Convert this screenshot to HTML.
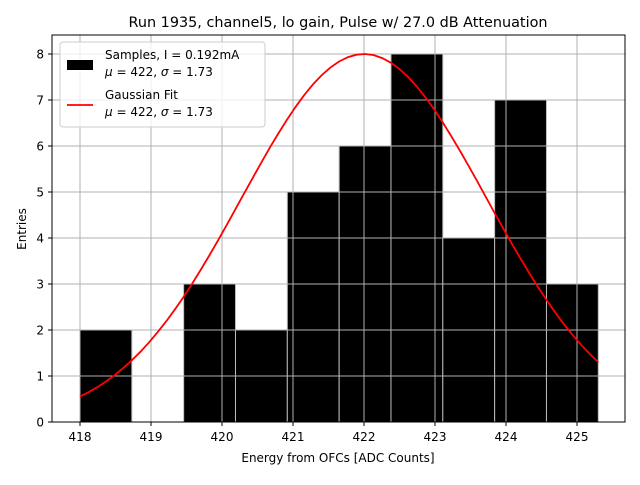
<!DOCTYPE html>
<html><head><meta charset="utf-8"><style>
body{margin:0;background:#fff}
svg text{font-family:"DejaVu Sans","Liberation Sans",sans-serif;fill:#000}
</style></head><body>
<svg id="chart" width="640" height="480" xmlns="http://www.w3.org/2000/svg">
<rect width="640" height="480" fill="#fff"/>
<text x="338" y="27" font-size="14.4" text-anchor="middle">Run 1935, channel5, lo gain, Pulse w/ 27.0 dB Attenuation</text>
<g id="bars"></g>
<g id="grid"></g>
<g id="fit"></g>
<rect x="52" y="35" width="573" height="387" fill="none" stroke="#000" stroke-width="1"/>
<g id="axes"></g>
<text x="338" y="462" font-size="12" text-anchor="middle">Energy from OFCs [ADC Counts]</text>
<text transform="translate(26,229) rotate(-90)" font-size="12" text-anchor="middle">Entries</text>
<g>
<rect x="60" y="42" width="205" height="85" rx="3" fill="#fff" fill-opacity="0.8" stroke="#ccc"/>
<rect x="67" y="60" width="26" height="10" fill="#000"/>
<text x="105" y="59" font-size="12">Samples, I = 0.192mA</text>
<text x="105" y="76" font-size="12"><tspan font-style="italic">μ</tspan> = 422, <tspan font-style="italic">σ</tspan> = 1.73</text>
<line x1="67" y1="105" x2="93" y2="105" stroke="red" stroke-width="1.8"/>
<text x="105" y="99" font-size="12">Gaussian Fit</text>
<text x="105" y="116" font-size="12"><tspan font-style="italic">μ</tspan> = 422, <tspan font-style="italic">σ</tspan> = 1.73</text>
</g>
</svg>
<script>
const binEdges=[418,418.73,419.46,420.19,420.92,421.65,422.38,423.11,423.84,424.57,425.3];
const counts=[2,0,3,2,5,6,8,4,7,3];
const xTicks=[418,419,420,421,422,423,424,425];
const yTicks=[0,1,2,3,4,5,6,7,8];
const fitMu=422, fitSigma=1.73, fitAmp=8;
const NS="http://www.w3.org/2000/svg";
const X=v=>80+(v-418)*71.0;
const Y=v=>422-v*46.0;
function mk(t,a,p){const e=document.createElementNS(NS,t);for(const k in a)e.setAttribute(k,a[k]);p.appendChild(e);return e;}
const grid=document.getElementById('grid'),bars=document.getElementById('bars'),fit=document.getElementById('fit'),axes=document.getElementById('axes');
xTicks.forEach(t=>{
 const g=mk('line',{x1:X(t),x2:X(t),y1:35,y2:422,stroke:'#b0b0b0','stroke-width':1},grid);
 
 
 mk('line',{x1:X(t),x2:X(t),y1:422,y2:426,stroke:'#000'},axes);
 const l=mk('text',{x:X(t),y:441,'font-size':12,'text-anchor':'middle'},axes);l.textContent=t;
 
 
});
yTicks.forEach(t=>{
 const g=mk('line',{x1:52,x2:625,y1:Y(t),y2:Y(t),stroke:'#b0b0b0','stroke-width':1},grid);
 
 
 mk('line',{x1:48,x2:52,y1:Y(t),y2:Y(t),stroke:'#000'},axes);
 const l=mk('text',{x:44,y:Y(t)+4.5,'font-size':12,'text-anchor':'end'},axes);l.textContent=t;
 
 
});
counts.forEach((c,i)=>{
 if(c<=0)return;
 const r=mk('rect',{x:X(binEdges[i]),y:Y(c),width:X(binEdges[i+1])-X(binEdges[i]),height:Y(0)-Y(c),fill:'#000',stroke:'#bbb','stroke-width':1},bars);
 
 
});
let pts=[];const x0=binEdges[0],x1=binEdges[binEdges.length-1];
for(let i=0;i<=60;i++){const x=x0+(x1-x0)*i/60;const y=fitAmp*Math.exp(-Math.pow(x-fitMu,2)/(2*fitSigma*fitSigma));pts.push(X(x).toFixed(1)+','+Y(y).toFixed(1));}
const p=mk('polyline',{points:pts.join(' '),fill:'none',stroke:'red','stroke-width':1.8},fit);


</script>
</body></html>
